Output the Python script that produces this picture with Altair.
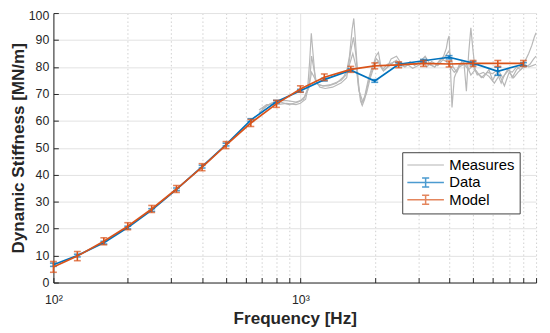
import altair as alt
import pandas as pd

# ---- band centre frequencies (Hz) ----
freq = [100, 125, 160, 200, 250, 315, 400, 500, 630, 800,
        1000, 1250, 1600, 2000, 2500, 3150, 4000, 5000, 6300, 8000]
data_v = [6.6, 10.0, 14.8, 20.4, 26.9, 34.6, 43.0, 51.2, 60.3, 67.1,
          71.2, 75.3, 78.8, 74.8, 81.0, 82.3, 83.6, 81.4, 78.4, 81.0]
data_e = [0.6, 0.5, 0.5, 0.5, 0.5, 0.5, 0.5, 0.5, 0.5, 0.5,
          0.5, 0.5, 0.5, 0.5, 0.5, 0.5, 0.6, 0.6, 1.5, 0.6]
model_v = [5.8, 9.8, 15.3, 20.9, 27.3, 34.7, 42.8, 51.0, 59.2, 66.3,
           71.8, 76.2, 79.1, 80.4, 80.8, 81.3, 81.1, 81.3, 81.3, 81.3]
model_e = [2.0, 1.7, 1.3, 1.3, 1.3, 1.3, 1.3, 1.3, 1.3, 1.3,
           1.2, 1.2, 1.1, 1.1, 1.1, 1.1, 1.1, 1.1, 1.1, 1.1]

# ---- measured curves (grey) ----
m1_f = [680, 730, 800, 880, 960, 1000, 1040, 1070, 1090, 1107,
        1125, 1150, 1180, 1240, 1330, 1460, 1530, 1580, 1620, 1645,
        1670, 1710, 1750, 1780, 1820, 1880, 1950, 2020, 2070, 2120,
        2170, 2250, 2330, 2450, 2550, 2650, 2780, 2900, 3050, 3200,
        3350, 3500, 3660, 3800, 3900, 3950, 4000, 4050, 4110, 4200,
        4400, 4600, 4700, 4800, 4900, 5000, 5100, 5300, 5500, 5800,
        6000, 6250, 6500, 6700, 7000, 7200, 7500, 7700, 8000, 8200,
        8400, 8650, 8850, 9000]
m1_v = [63, 65.5, 67.5, 67.5, 67, 67.5, 69, 72, 82, 92.5,
        85, 75, 73.5, 73, 73.5, 75, 77, 84, 94, 98,
        90, 76, 67.5, 65.7, 68, 74, 79, 84, 85.4, 80,
        78.5, 80, 83, 84, 81.5, 80, 82, 80.5, 82, 84,
        81, 80, 82, 84, 87, 90, 91.5, 80, 65, 76,
        81, 81, 71, 85, 94.5, 86, 79, 77, 76, 79,
        75, 78, 74, 77, 79, 76, 79, 80, 81, 83,
        85, 88, 91, 92.7]
m2_f = [680, 730, 800, 880, 960, 1000, 1050, 1090, 1110, 1130,
        1160, 1200, 1260, 1350, 1460, 1540, 1600, 1640, 1680, 1720,
        1770, 1820, 1880, 1950, 2030, 2080, 2150, 2250, 2350, 2450,
        2550, 2700, 2850, 3000, 3150, 3300, 3500, 3700, 3900, 4050,
        4200, 4400, 4600, 4800, 5000, 5200, 5500, 5800, 6100, 6400,
        6700, 7000, 7300, 7600, 7900, 8200, 8500, 8800, 9000]
m2_v = [64, 66, 66, 66.5, 66, 66.5, 68, 75, 84, 80,
        74.5, 72.5, 72, 72.5, 74, 76, 86, 91, 84, 72,
        66.5, 69, 75, 80, 83, 82, 79, 81, 81.5, 82.5,
        80.5, 81, 79.5, 80.5, 82, 81, 80, 83, 82, 80,
        78, 80, 81, 79, 80.5, 77, 78, 76.5, 74, 77,
        73, 78, 76, 78, 79.5, 80, 81, 83, 84]
m3_f = [700, 760, 830, 900, 980, 1030, 1080, 1110, 1140, 1180,
        1230, 1300, 1400, 1500, 1570, 1630, 1680, 1730, 1790, 1850,
        1920, 2000, 2060, 2120, 2200, 2300, 2400, 2500, 2650, 2800,
        2950, 3100, 3250, 3400, 3600, 3800, 4000, 4150, 4300, 4500,
        4700, 4900, 5100, 5400, 5700, 6000, 6300, 6600, 6900, 7200,
        7500, 7800, 8100, 8400, 8700, 9000]
m3_v = [64.5, 66.5, 67, 66, 67, 68, 72, 78, 76, 73.5,
        73, 73, 74, 76.5, 80, 85, 80, 71, 67, 70,
        76, 81, 82, 80, 79, 80.5, 82, 81, 80, 81.5,
        81, 82.5, 80, 82, 80.5, 83, 86, 80, 78, 82,
        81, 77, 79, 76, 78, 77.5, 79, 76, 79, 78,
        80, 79, 81, 80, 80.5, 81]

x_tick_values = [100, 200, 300, 400, 500, 600, 700, 800, 900,
                 1000, 2000, 3000, 4000, 5000, 6000, 7000, 8000, 9000]
y_tick_values = [0, 10, 20, 30, 40, 50, 60, 70, 80, 90, 100]
series_names = ["Measures", "Data", "Model"]

GRAY, BLUE, ORANGE = "#b8b8b8", "#0072BD", "#D95319"
TXT = "#262626"
FONT = "Liberation Sans"

meas = pd.concat([
    pd.DataFrame({"f": m1_f, "v": m1_v, "run": "m1"}),
    pd.DataFrame({"f": m2_f, "v": m2_v, "run": "m2"}),
    pd.DataFrame({"f": m3_f, "v": m3_v, "run": "m3"}),
])
meas["series"] = "Measures"

dat = pd.DataFrame({"f": freq, "v": data_v,
                    "lo": [a - b for a, b in zip(data_v, data_e)],
                    "hi": [a + b for a, b in zip(data_v, data_e)],
                    "series": "Data"})
mod = pd.DataFrame({"f": freq, "v": model_v,
                    "lo": [a - b for a, b in zip(model_v, model_e)],
                    "hi": [a + b for a, b in zip(model_v, model_e)],
                    "series": "Model"})

xs = alt.Scale(type="log", domain=[100, 9000], nice=False)
ys = alt.Scale(domain=[0, 100], nice=False)

line_path = "M-2.62,0L2.62,0"
eb_path = "M-2.62,0L2.62,0M0,-0.65L0,0.65M-0.51,-0.65L0.51,-0.65M-0.51,0.65L0.51,0.65"
color_scale = alt.Scale(domain=series_names, range=[GRAY, BLUE, ORANGE])
shape_scale = alt.Scale(domain=series_names, range=[line_path, eb_path, eb_path])
leg = alt.Legend(orient="none", legendX=353.4, legendY=141.0, title=None)

is_major = "datum.value == 100 || datum.value == 1000"
x_axis_main = alt.Axis(
    values=x_tick_values, grid=True,
    gridDash={"condition": {"test": is_major, "value": []}, "value": [1.5, 2.5]},
    gridColor={"condition": {"test": is_major, "value": "#e2e2e2"}, "value": "#cfcfcf"},
    ticks=False, tickSize=0, domain=True, domainColor=TXT, domainWidth=1,
    labelExpr="datum.value == 100 ? '10²' : (datum.value == 1000 ? '10³' : '')",
    labelOverlap=False, labelFlush=False, labelFont=FONT, labelFontSize=12.5, labelColor=TXT,
    labelPadding=11.7, orient="bottom",
    title="Frequency [Hz]", titleFont=FONT, titleFontSize=17.3, titleFontWeight="bold",
    titleColor=TXT, titleX=244.5, titleY=41.5, titleBaseline="alphabetic", titleAlign="center",
)
y_axis_main = alt.Axis(
    values=y_tick_values, grid=True, gridColor="#e2e2e2",
    ticks=False, tickSize=0, domain=True, domainColor=TXT, domainWidth=1,
    labelFlush=False,
    labelOffset={"condition": {"test": "datum.value == 100", "value": 2.5}, "value": 0},
    labelFont=FONT, labelFontSize=12.5, labelColor=TXT, labelPadding=4.7, orient="left",
    title="Dynamic Stiffness [MN/m]", titleFont=FONT, titleFontSize=17.3,
    titleFontWeight="bold", titleColor=TXT, titleAngle=270, titleX=-30.5, titleY=136.5,
    titleBaseline="alphabetic", titleAlign="center",
)
x_axis_ticks = alt.Axis(values=x_tick_values, grid=False, domain=False, labels=False,
                        ticks=True, tickSize=5, tickColor=TXT, tickWidth=1,
                        offset=-5, orient="bottom", title=None)
y_axis_ticks = alt.Axis(values=y_tick_values, grid=False, domain=False, labels=False,
                        ticks=True, tickSize=5, tickColor=TXT, tickWidth=1,
                        offset=-5, orient="left", title=None)

color_enc = alt.Color("series:N", scale=color_scale, legend=leg)

grey = alt.Chart(meas).mark_line(strokeWidth=1.2).encode(
    x=alt.X("f:Q", scale=xs, axis=x_axis_main),
    y=alt.Y("v:Q", scale=ys, axis=y_axis_main),
    color=color_enc, detail="run:N",
)

def eb(df):
    return alt.Chart(df).mark_errorbar(ticks=True, size=7, thickness=1.6).encode(
        x=alt.X("f:Q", scale=xs, axis=None),
        y=alt.Y("lo:Q", scale=ys, axis=None), y2="hi:Q",
        color=color_enc,
    )

def ln(df, axx=None, axy=None):
    return alt.Chart(df).mark_line(strokeWidth=1.7).encode(
        x=alt.X("f:Q", scale=xs, axis=axx),
        y=alt.Y("v:Q", scale=ys, axis=axy),
        color=color_enc,
    )

legend_shapes = alt.Chart(dat).transform_filter("false").mark_point(filled=False).encode(
    x=alt.X("f:Q", scale=xs, axis=None),
    y=alt.Y("v:Q", scale=ys, axis=None),
    color=color_enc,
    shape=alt.Shape("series:N", scale=shape_scale, legend=leg),
)

chart = alt.layer(
    grey, eb(dat), ln(dat), eb(mod), ln(mod, x_axis_ticks, y_axis_ticks), legend_shapes
).resolve_axis(x="independent", y="independent").properties(
    width=489, height=273,
    autosize=alt.AutoSizeParams(type="none"),
    padding={"left": 46, "top": 3, "right": 6, "bottom": 48},
).configure_view(strokeWidth=0).configure_legend(
    fillColor="white", strokeColor="#404040", padding=5,
    labelFont=FONT, labelFontSize=15, labelColor="black",
    symbolSize=200, symbolStrokeWidth=1.5, rowPadding=1.6, labelOffset=16,
    symbolOffset=10.7,
)

chart.save("out.html", embed_options={"renderer": "svg", "actions": False})
